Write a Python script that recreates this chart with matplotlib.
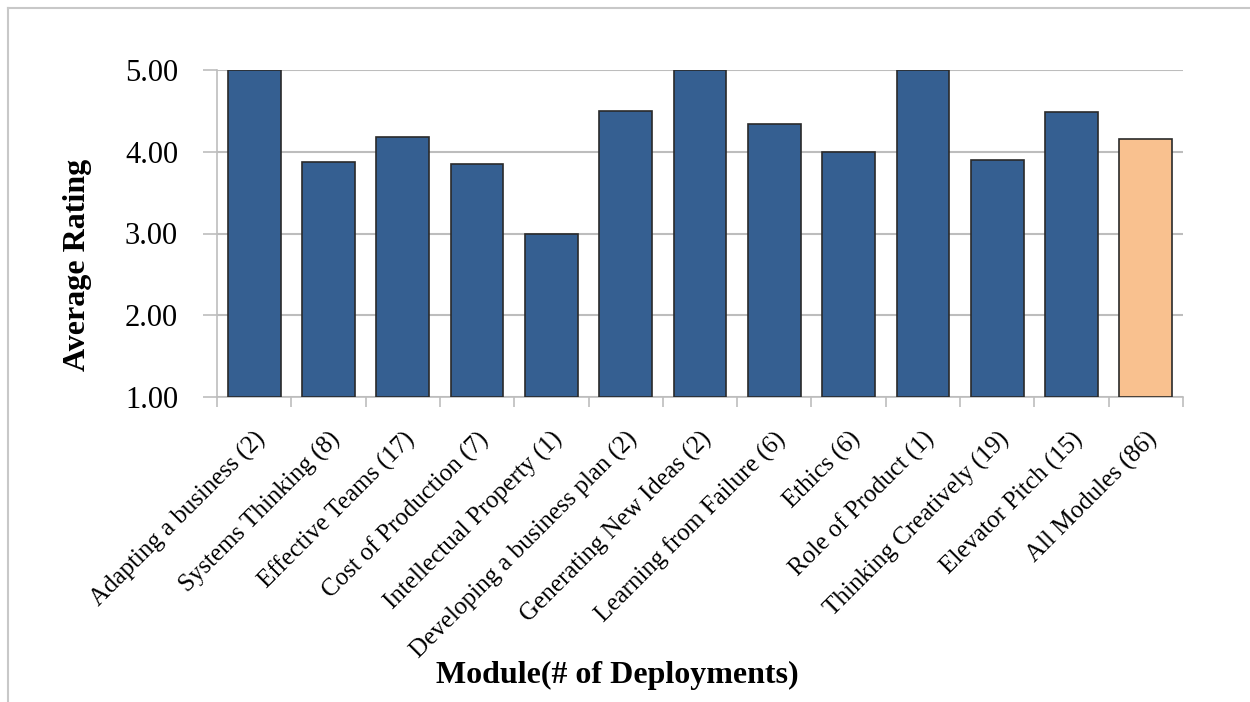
import matplotlib
matplotlib.use("Agg")
import matplotlib.pyplot as plt
from matplotlib.lines import Line2D

modules = ["Adapting a business (2)", "Systems Thinking (8)", "Effective Teams (17)",
           "Cost of Production (7)", "Intellectual Property (1)", "Developing a business plan (2)",
           "Generating New Ideas (2)", "Learning from Failure (6)", "Ethics (6)",
           "Role of Product (1)", "Thinking Creatively (19)", "Elevator Pitch (15)",
           "All Modules (86)"]
ratings = [5.00, 3.88, 4.18, 3.85, 3.00, 4.50, 5.00, 4.34, 4.00, 5.00, 3.90, 4.49, 4.15]
yticks = [1.0, 2.0, 3.0, 4.0, 5.0]

plt.rcParams['font.family'] = ['Liberation Serif', 'DejaVu Serif']

fig = plt.figure(figsize=(12.5, 7.02), dpi=100)
ax = fig.add_axes([217/1250, 1 - 397/702, (1183-217)/1250, (397-70)/702])

colors = ["#355f91"] * (len(modules) - 1) + ["#f9c18f"]
x = range(len(modules))
ax.bar(x, [r - 1 for r in ratings], bottom=1, width=0.71, color=colors,
       edgecolor="#2a2a2a", linewidth=1.2, zorder=3)

ax.set_xlim(-0.5, len(modules) - 0.5)
ax.set_ylim(1, 5)
ax.set_yticks(yticks)
ax.set_yticklabels([f"{v:.2f}" for v in yticks], fontsize=22)
ax.yaxis.grid(True, color="#bdbdbd", linewidth=1.5, zorder=0)
ax.tick_params(axis="y", length=10, color="#bdbdbd", width=1.2, pad=18)

ax.set_xticks([i - 0.5 for i in range(len(modules) + 1)])
ax.set_xticklabels([])
ax.set_xticks(list(x), minor=True)
ax.set_xticklabels(modules, minor=True, rotation=45, ha="right", rotation_mode="anchor",
                   fontsize=18)
ax.tick_params(axis="x", which="major", length=7, color="#bdbdbd", width=1.2)
ax.tick_params(axis="x", which="minor", length=0, pad=22)

for s in ["top", "right"]:
    ax.spines[s].set_visible(False)
for s in ["left", "bottom"]:
    ax.spines[s].set_color("#bdbdbd")
    ax.spines[s].set_linewidth(1.2)

fig.text(78/1250, 1 - 265/702, "Average Rating", rotation=90, fontsize=23,
         fontweight="bold", ha="center", va="center")
fig.text(617/1250, 1 - 675/702, "Module(# of Deployments)", fontsize=23,
         fontweight="bold", ha="center", va="center")

fig.add_artist(Line2D([8/1250, 1.0], [1 - 8/702, 1 - 8/702], color="#c8c8c8", linewidth=1.5))
fig.add_artist(Line2D([8/1250, 8/1250], [1 - 8/702, 0.0], color="#c8c8c8", linewidth=1.5))

fig.savefig("out.png", dpi=100)
